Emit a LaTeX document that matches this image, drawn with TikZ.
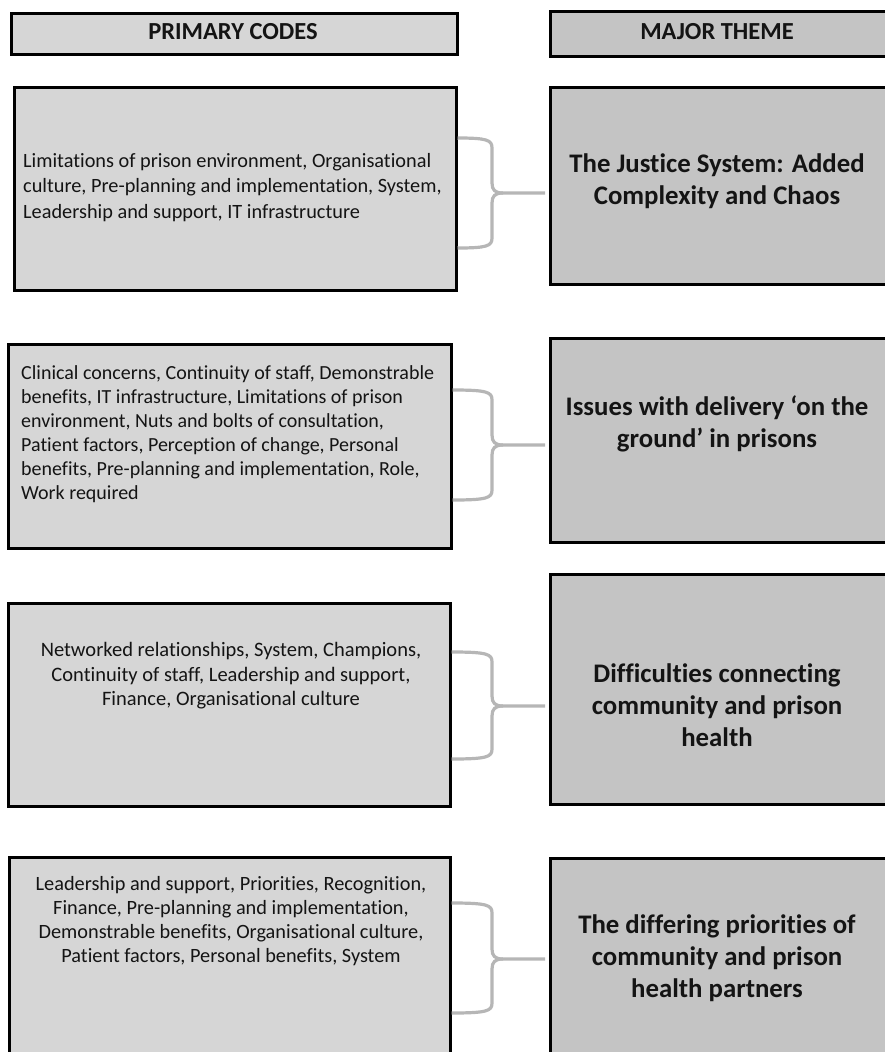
\documentclass[tikz,border=0pt]{standalone}
\usepackage{fontspec}
\setmainfont{Carlito}[Ligatures={NoCommon}]
\definecolor{codefill}{RGB}{214,214,214}
\definecolor{themefill}{RGB}{196,196,196}
\definecolor{bracegrey}{RGB}{182,182,182}
\definecolor{ink}{RGB}{20,20,20}
\tikzset{
  codebox/.style={draw=black, line width=2.5pt, fill=codefill, inner sep=0pt, anchor=north west},
  themebox/.style={draw=black, line width=2.5pt, fill=themefill, inner sep=0pt, anchor=north west},
  headtext/.style={font=\bfseries\fontsize{24.5}{29}\selectfont, text=ink, inner sep=0pt},
  codetext/.style={font=\fontsize{20}{24}\selectfont, text=ink, inner sep=0pt},
  themetext/.style={font=\bfseries\fontsize{26.8}{32}\selectfont, text=ink, align=center, inner sep=0pt},
  bracestroke/.style={draw=bracegrey, line width=3.2pt, line cap=butt, line join=round},
}
% curly brace joining a code box (#1) to its theme box (#2);
% #3 = upper arm, #4 = lower arm, #5 = tip height
\newcommand{\themebrace}[5]{%
  \draw[bracestroke] (#1.east |- 0,#3) .. controls (487,#3) and (492,#3+2) .. (492,#3+10)
     -- (492,#5-10) .. controls (492,#5-3) and (495,#5) .. (503,#5)
     -- ([xshift=-4pt]#2.west |- 0,#5);
  \draw[bracestroke] (#1.east |- 0,#4) .. controls (487,#4) and (492,#4-2) .. (492,#4-10)
     -- (492,#5+10) .. controls (492,#5+3) and (495,#5) .. (503,#5);
}
\begin{document}
\begin{tikzpicture}[x=1pt, y=-1pt]
\useasboundingbox (0,0) rectangle (885,1052);
\clip (0,0) rectangle (885,1052);

% column headings
\node[codebox, minimum width=446pt, minimum height=41pt] (hc) at (10,12) {};
\node[themebox, minimum width=341pt, minimum height=45pt] (ht) at (549,10) {};
\node[headtext] (hctext) at (233,32) {PRIMARY CODES};
\node[headtext] (httext) at (717,32) {MAJOR THEME};

% row 1
\node[codebox, minimum width=442pt, minimum height=203pt] (c1) at (13,86) {};
\node[themebox, minimum width=341pt, minimum height=197pt] (t1) at (549,86) {};
\node[codetext, font=\fontsize{20.3}{25.5}\selectfont, align=left, anchor=west] (c1text) at (23,187.5)
  {Limitations of prison environment, Organisational\\
   culture, Pre-planning and implementation, System,\\
   Leadership and support, IT infrastructure};
\node[themetext] (t1text) at (717,181.5) {The Justice System: Added\\ Complexity and Chaos};
\themebrace{c1}{t1}{138}{248}{193}

% row 2
\node[codebox, minimum width=443pt, minimum height=204pt] (c2) at (7,343) {};
\node[themebox, minimum width=341pt, minimum height=204pt] (t2) at (549,337) {};
\node[codetext, align=left, anchor=west] (c2text) at (21,434)
  {Clinical concerns, Continuity of staff, Demonstrable\\
   benefits, IT infrastructure, Limitations of prison\\
   environment, Nuts and bolts of consultation,\\
   Patient factors, Perception of change, Personal\\
   benefits, Pre-planning and implementation, Role,\\
   Work required};
\node[themetext] (t2text) at (717,424) {Issues with delivery ‘on the\\ ground’ in prisons};
\themebrace{c2}{t2}{390}{500}{445}

% row 3
\node[codebox, minimum width=442pt, minimum height=203pt] (c3) at (7,602) {};
\node[themebox, minimum width=341pt, minimum height=230pt] (t3) at (549,573) {};
\node[codetext, font=\fontsize{20.5}{24.5}\selectfont, align=center] (c3text) at (231,676)
  {Networked relationships, System, Champions,\\
   Continuity of staff, Leadership and support,\\
   Finance, Organisational culture};
\node[themetext] (t3text) at (717,705) {Difficulties connecting\\ community and prison\\ health};
\themebrace{c3}{t3}{652}{759}{706}

% row 4
\node[codebox, minimum width=441pt, minimum height=210pt] (c4) at (8,856) {};
\node[themebox, minimum width=341pt, minimum height=210pt] (t4) at (549,857) {};
\node[codetext, font=\fontsize{20.3}{24}\selectfont, align=center] (c4text) at (231,921)
  {Leadership and support, Priorities, Recognition,\\
   Finance, Pre-planning and implementation,\\
   Demonstrable benefits, Organisational culture,\\
   Patient factors, Personal benefits, System};
\node[themetext] (t4text) at (717,958) {The differing priorities of\\ community and prison\\ health partners};
\themebrace{c4}{t4}{903}{1013}{959}
\end{tikzpicture}
\end{document}
